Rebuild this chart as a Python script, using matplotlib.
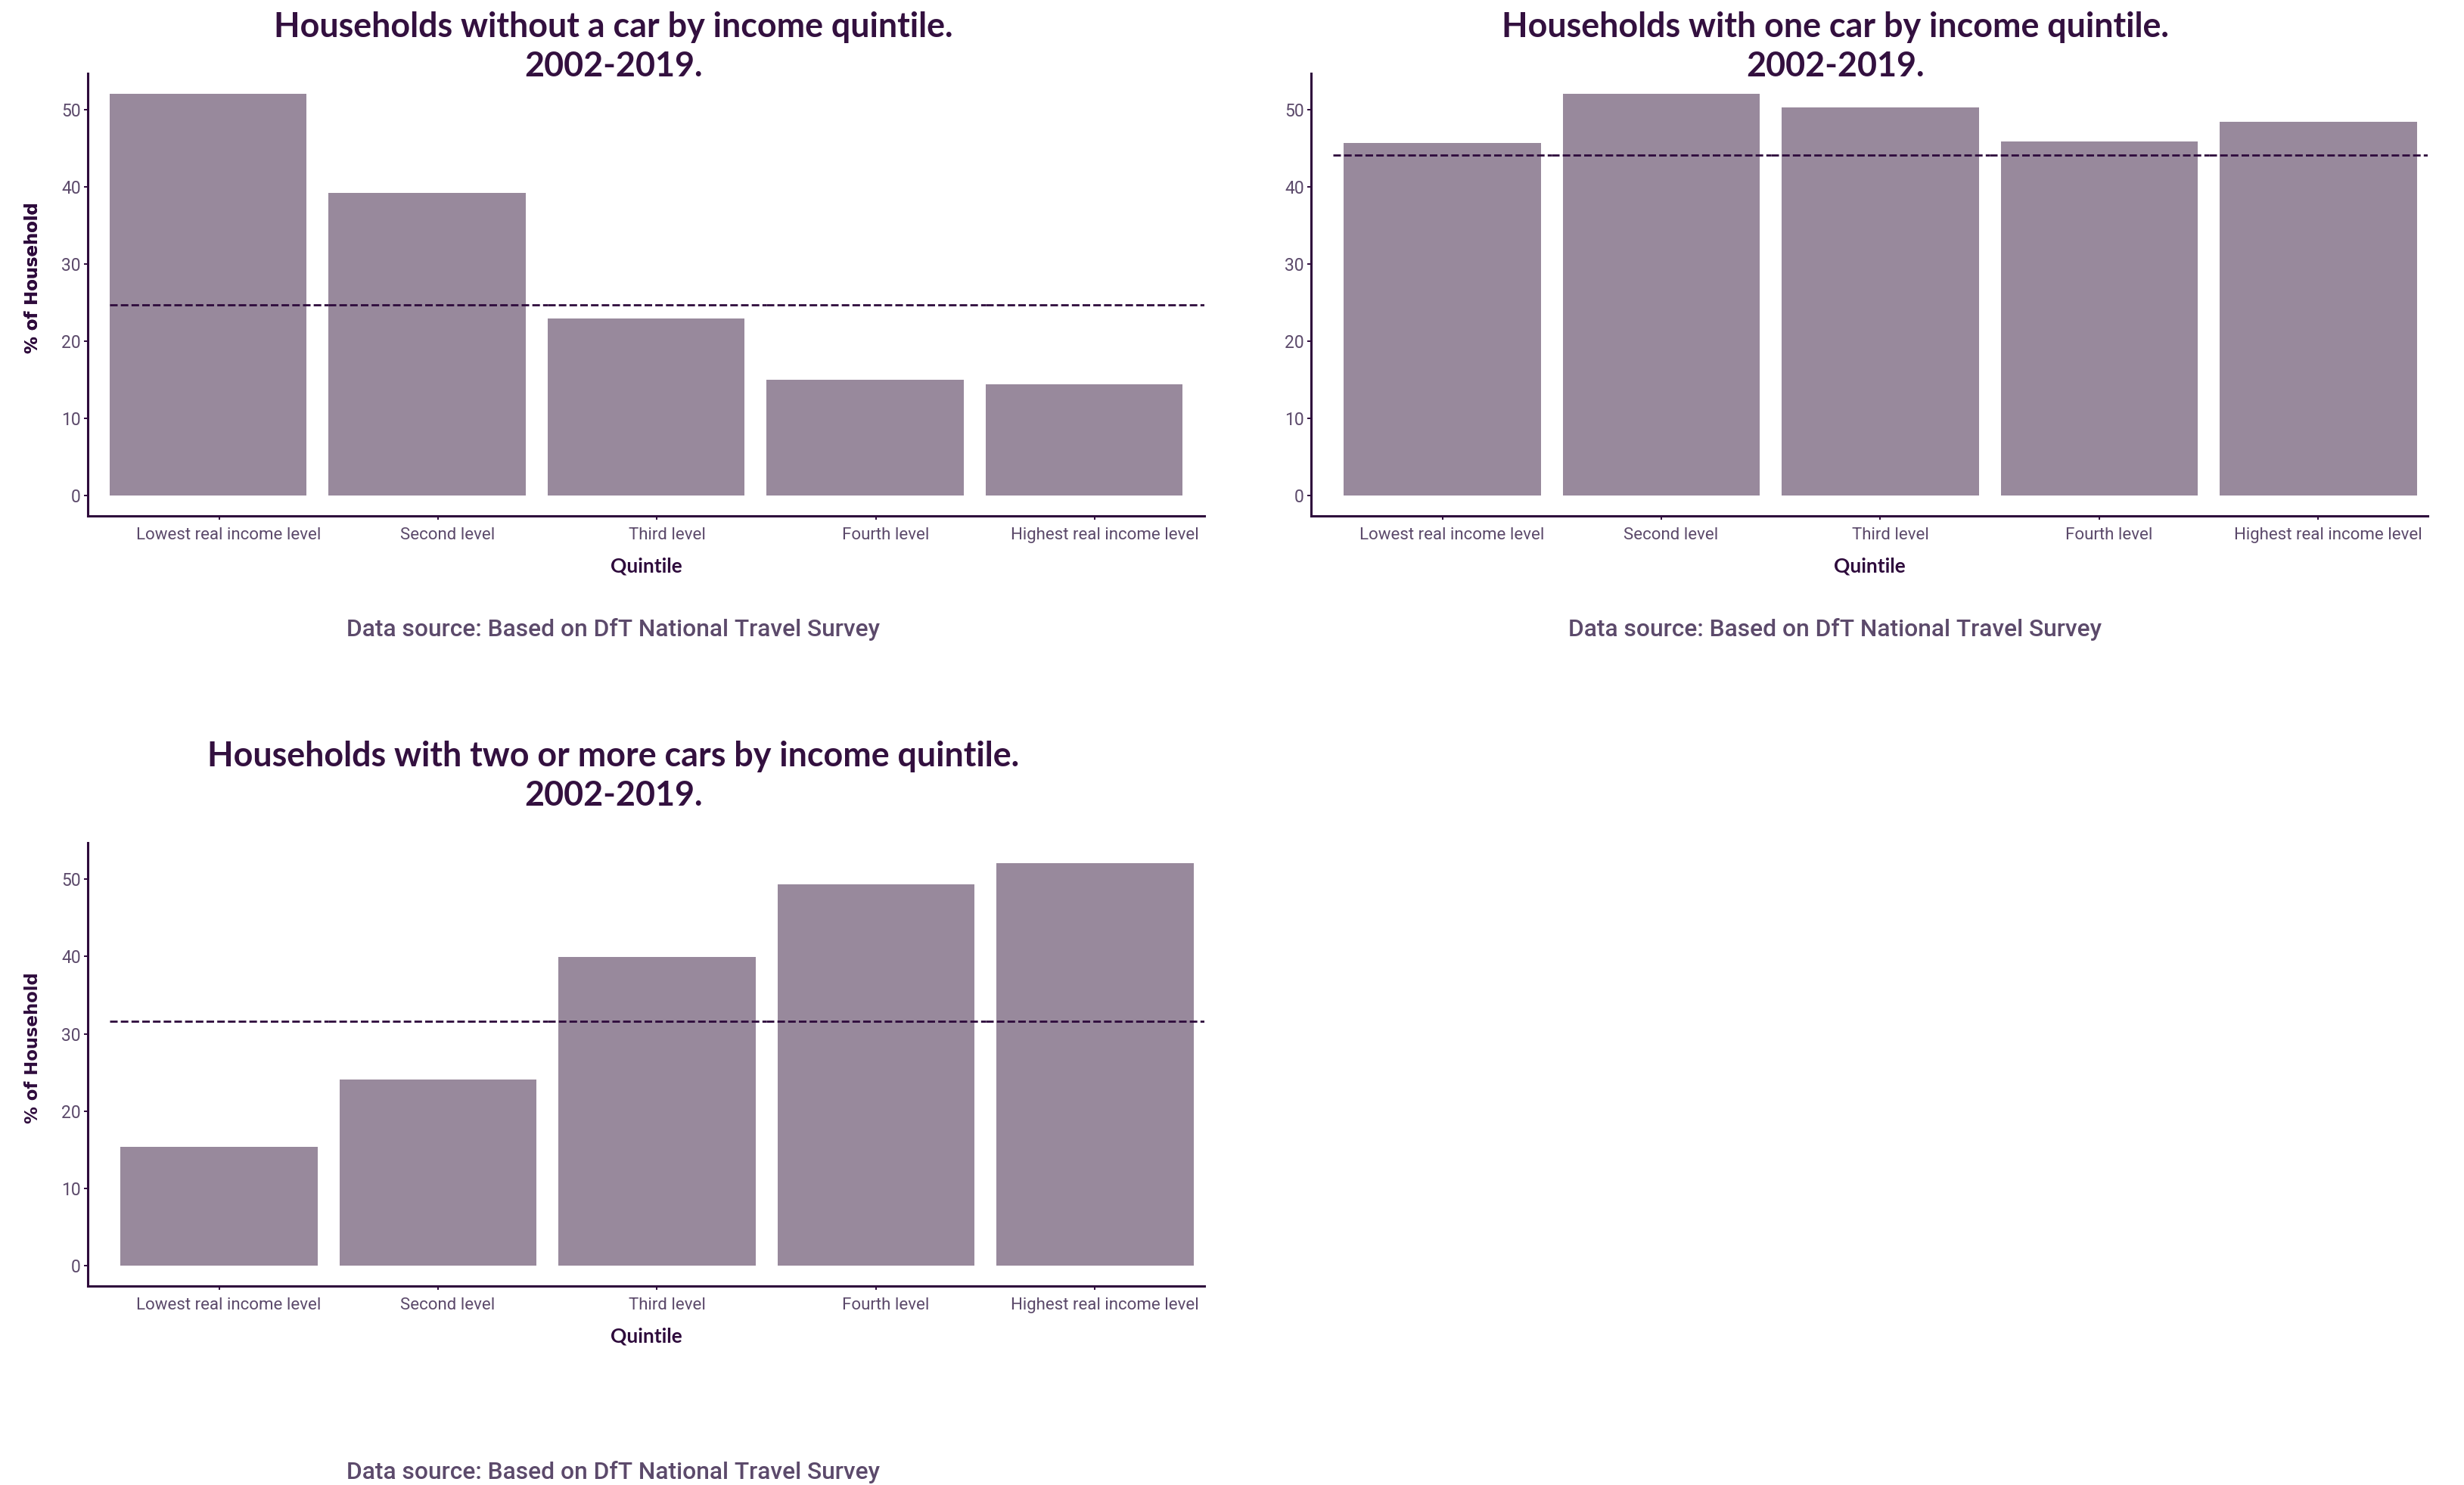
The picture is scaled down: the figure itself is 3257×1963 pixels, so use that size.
import numpy as np
import matplotlib
matplotlib.use("Agg")
import matplotlib.pyplot as plt
import matplotlib.transforms as mtransforms

# data (% of households, 2002-2019)
quintiles = ["Lowest real income level", "Second level", "Third level",
             "Fourth level", "Highest real income level"]
no_car = [52.1, 39.2, 23.0, 15.0, 14.4]
no_car_avg = 24.7
one_car = [45.7, 52.1, 50.3, 45.9, 48.4]
one_car_avg = 44.1
two_cars = [15.4, 24.1, 39.9, 49.3, 52.1]
two_cars_avg = 31.6

titles = ["Households without a car by income quintile.\n2002-2019.",
          "Households with one car by income quintile.\n2002-2019.",
          "Households with two or more cars by income quintile.\n2002-2019."]
caption = "Data source: Based on DfT National Travel Survey"

bar_col = "#98899C"
dark = "#2E0B3C"
title_col = "#33103F"
text_col = "#5C4A6B"

W, H = 3257, 1963
fig = plt.figure(figsize=(W / 100, H / 100), dpi=100)


def px(x0, y_top, x1, y_bot):
    return [x0 / W, 1 - y_bot / H, (x1 - x0) / W, (y_bot - y_top) / H]


panels = [
    # values, average, title, axes box (px), bar shift, title y, caption y, col centre
    (no_car, no_car_avg, titles[0], (116, 97, 1592, 682), -0.05, 62, 832, 811),
    (one_car, one_car_avg, titles[1], (1733, 97, 3209, 682), 0.0, 62, 832, 2426),
    (two_cars, two_cars_avg, titles[2], (116, 1114, 1592, 1700), 0.0, 1026, 1946, 811),
]

for vals, avg, title, box, shift, ty, cy, cx in panels:
    ax = fig.add_axes(px(*box))
    x = np.arange(1, len(vals) + 1)
    ax.bar(x + shift, vals, width=0.9, color=bar_col, zorder=1)
    # average line drawn one category at a time, like the original
    for xi in x:
        ax.hlines(avg, xi - 0.5, xi + 0.5, colors=dark, linewidth=2.0,
                  linestyles=(0, (3.6, 1.5)), zorder=2)
    top = max(max(vals), avg)
    ax.set_ylim(-0.05 * top, 1.05 * top)
    ax.set_xlim(0.4, 5.5)
    ax.set_xticks(x)
    ax.tick_params(axis="x", labelbottom=False)
    # category labels sit a little right of their ticks in the original
    lab_tr = ax.get_xaxis_transform() + mtransforms.ScaledTranslation(
        0.13, -0.15, fig.dpi_scale_trans)
    for xi, q in zip(x, quintiles):
        ax.text(xi, 0, q, transform=lab_tr, ha="center", va="top",
                family="Roboto", fontsize=16, color=text_col)
    ax.set_yticks([0, 10, 20, 30, 40, 50])
    ax.set_yticklabels(["0", "10", "20", "30", "40", "50"], family="Roboto",
                       fontsize=16.5, color=text_col)
    ax.tick_params(axis="both", length=3.6, width=1.4, color=dark)
    ax.tick_params(axis="y", pad=3)
    for s in ["top", "right"]:
        ax.spines[s].set_visible(False)
    for s in ["left", "bottom"]:
        ax.spines[s].set_color(dark)
        ax.spines[s].set_linewidth(2.2)

    x0, y0, x1, y1 = box
    fig.text(44 / W, 1 - ((y0 + y1) / 2 - 22) / H, "% of Household", rotation=90,
             ha="center", va="center", family="DejaVu Sans", fontweight="bold",
             fontsize=16.4, color=dark)
    fig.text((x0 + x1) / 2 / W, 1 - (y1 + 66) / H, "Quintile", ha="center",
             va="center", family="Lato", fontweight="bold", fontsize=19, color=dark)
    fig.text(cx / W, 1 - ty / H, title, ha="center", va="center",
             multialignment="center", family="Lato", fontweight="bold",
             fontsize=32.3, color=title_col, linespacing=1.27)
    fig.text(cx / W, 1 - cy / H, caption, ha="center", va="center",
             family="Roboto", fontweight="medium", fontsize=22.9, color=text_col)

fig.savefig("out.png", dpi=100, facecolor="white")
